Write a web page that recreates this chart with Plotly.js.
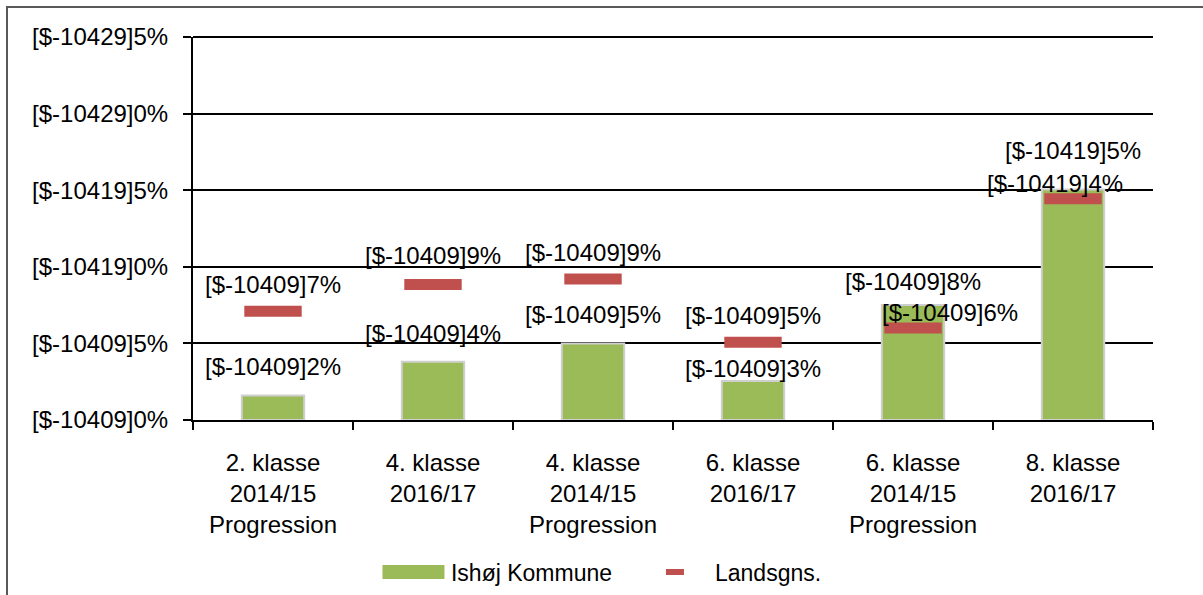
<!DOCTYPE html>
<html>
<head>
<meta charset="utf-8">
<script src="https://cdn.plot.ly/plotly-3.0.1.min.js"></script>
<style>
  html, body { margin: 0; padding: 0; background: #ffffff; }
  #wrap { position: relative; width: 1203px; height: 595px; overflow: hidden; }
  #chart { position: absolute; left: 0; top: 0; width: 1203px; height: 595px; }
  #frame { position: absolute; left: 6px; top: 6px; width: 1300px; height: 700px;
           border-left: 2px solid #595959; border-top: 2px solid #595959; pointer-events: none; }
</style>
</head>
<body>
<div id="wrap">
  <div id="chart"></div>
  <div id="frame"></div>
</div>
<script>
// ---- data ----
const categories = [
  "2. klasse<br>2014/15<br>Progression",
  "4. klasse<br>2016/17",
  "4. klasse<br>2014/15<br>Progression",
  "6. klasse<br>2016/17",
  "6. klasse<br>2014/15<br>Progression",
  "8. klasse<br>2016/17"
];
const ishojValues = [1.6, 3.8, 5.0, 2.55, 7.5, 15.05];
const landsValues = [7.1, 8.85, 9.2, 5.07, 6.0, 14.45];
const ishojLabels = ["[$-10409]2%", "[$-10409]4%", "[$-10409]5%", "[$-10409]3%", "[$-10409]8%", "[$-10419]5%"];
const landsLabels = ["[$-10409]7%", "[$-10409]9%", "[$-10409]9%", "[$-10409]5%", "[$-10409]6%", "[$-10419]4%"];
const tickValues = [0, 5, 10, 15, 20, 25];
const tickLabels = ["[$-10409]0%", "[$-10409]5%", "[$-10419]0%", "[$-10419]5%", "[$-10429]0%", "[$-10429]5%"];
const seriesNames = ["Ishøj Kommune", "Landsgns."];

// ---- label placement (pixels) ----
const barLabelShiftY = [29, 28, 29, 12, 24, 39];
const barLabelShiftX = [0, 0, 0, 0, 0, 0];
const avgLabelShiftY = [27, 29, 27, 27, 16, 15];
const avgLabelShiftX = [0, 0, 0, 0, 37, -18];

const baseFamily = "Liberation Sans, Arial, sans-serif";
const labelFont = { family: baseFamily, size: 24, color: "#000000" };

const annotations = [];
categories.forEach((c, i) => {
  annotations.push({ x: c, y: ishojValues[i], xref: "x", yref: "y", text: ishojLabels[i],
    showarrow: false, xanchor: "center", yanchor: "middle",
    xshift: barLabelShiftX[i], yshift: barLabelShiftY[i], font: labelFont });
  annotations.push({ x: c, y: landsValues[i], xref: "x", yref: "y", text: landsLabels[i],
    showarrow: false, xanchor: "center", yanchor: "middle",
    xshift: avgLabelShiftX[i], yshift: avgLabelShiftY[i], font: labelFont });
});

const traces = [
  { type: "bar", name: seriesNames[0], x: categories, y: ishojValues,
    marker: { color: "#9BBB59", line: { color: "#cfcfcf", width: 2 } },
    hoverinfo: "skip" },
  { type: "scatter", mode: "markers", name: seriesNames[1], x: categories, y: landsValues,
    marker: { symbol: "line-ew", size: 41, color: "#C0504D", line: { color: "#C0504D", width: 11 } },
    hoverinfo: "skip" }
];

const layout = {
  width: 1203, height: 595,
  margin: { l: 193, r: 50, t: 37, b: 175, autoexpand: false },
  paper_bgcolor: "rgba(0,0,0,0)", plot_bgcolor: "#ffffff",
  bargap: 0.61,
  showlegend: true,
  legend: { orientation: "h", x: 0.1906, xanchor: "left", y: -0.397, yanchor: "middle",
            font: { family: baseFamily, size: 23, color: "#000" },
            itemwidth: 65, entrywidth: 184 },
  xaxis: {
    type: "category", showgrid: false, zeroline: false,
    showline: true, linecolor: "#000", linewidth: 2,
    ticks: "outside", ticklen: 8, tickcolor: "#000", tickwidth: 2,
    tickson: "boundaries", ticklabelstandoff: 20,
    tickfont: { family: baseFamily, size: 24, color: "#000" },
    automargin: false, fixedrange: true
  },
  yaxis: {
    range: [0, 25], tickvals: tickValues, ticktext: tickLabels,
    showgrid: true, gridcolor: "#000", gridwidth: 2,
    zeroline: false, showline: true, linecolor: "#000", linewidth: 2,
    ticks: "outside", ticklen: 8, tickcolor: "#000", tickwidth: 2,
    ticklabelstandoff: 10, automargin: false,
    tickfont: labelFont, fixedrange: true
  },
  shapes: [
    { type: "line", xref: "paper", yref: "paper", x0: 0, x1: 1, y0: 1, y1: 1,
      line: { color: "#000", width: 2 } }
  ],
  annotations: annotations
};

const gd = document.getElementById("chart");
Plotly.newPlot(gd, traces, layout, { displayModeBar: false, staticPlot: true }).then(() => {
  // legend swatches shaped like the original
  const items = gd.querySelectorAll(".legend .traces");
  if (items[0]) {
    items[0].querySelectorAll(".legendpoints path").forEach(p => {
      p.setAttribute("d", "M31,7H-31V-7H31Z");
      p.style.strokeWidth = "0px";
    });
  }
  if (items[1]) {
    items[1].querySelectorAll(".legendpoints path").forEach(p => {
      p.setAttribute("d", "M6.5,0H-11.5");
      p.style.strokeWidth = "6px";
    });
  }
});
</script>
</body>
</html>
